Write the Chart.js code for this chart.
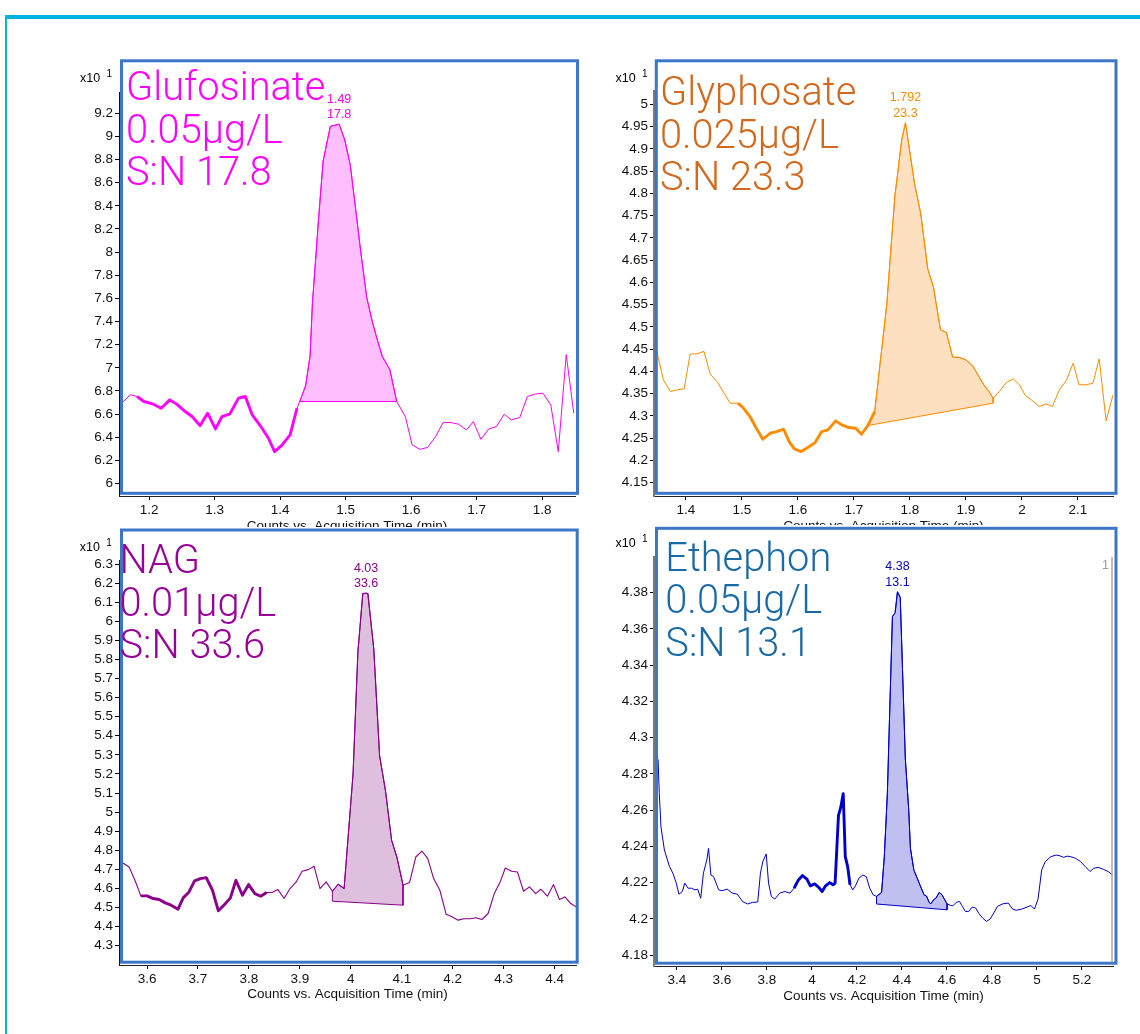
<!DOCTYPE html>
<html>
<head>
<meta charset="utf-8">
<title>Low-level chromatograms</title>
<script src="https://cdn.jsdelivr.net/npm/chart.js@4/dist/chart.umd.min.js"></script>
<style>
  html, body { margin: 0; padding: 0; background: #fff; }
  body { width: 1140px; height: 1034px; overflow: hidden; position: relative; }
  #outline { position: absolute; left: 5px; top: 15px; width: 1200px; height: 1100px;
             border-top: 4px solid #00b3e0; border-left: 2px solid #00b3e0; box-sizing: border-box; }
  canvas { position: absolute; }
</style>
</head>
<body>
<div id="outline"></div>
<canvas id="glufosinate" width="530" height="494" style="left:60px;top:40px"></canvas>
<canvas id="glyphosate" width="530" height="494" style="left:595px;top:40px"></canvas>
<canvas id="nag" width="530" height="507" style="left:60px;top:527px"></canvas>
<canvas id="ethephon" width="530" height="509" style="left:595px;top:525px"></canvas>
<script>
// ---- Glufosinate (counts x10^1) ----
const glufosinateTime = [1.158, 1.1711, 1.1816, 1.1921, 1.2052, 1.2184, 1.2315, 1.242, 1.2551, 1.2656,
  1.2777, 1.2892, 1.3013, 1.3113, 1.3233, 1.3364, 1.3469, 1.3574, 1.3706, 1.3821,
  1.3915, 1.402, 1.4152, 1.4257, 1.4299, 1.4388, 1.4456, 1.4492, 1.4584, 1.4655,
  1.4765, 1.49, 1.4985, 1.5069, 1.5135, 1.5227, 1.5322, 1.5411, 1.5474, 1.5558,
  1.5674, 1.5779, 1.591, 1.6015, 1.6135, 1.6251, 1.6372, 1.6487, 1.6608, 1.6723,
  1.6844, 1.6949, 1.7064, 1.7185, 1.73, 1.7421, 1.7526, 1.7657, 1.7773, 1.7893,
  1.8009, 1.813, 1.8245, 1.8366, 1.8481];
const glufosinateCounts = [6.694, 6.767, 6.752, 6.709, 6.689, 6.651, 6.723, 6.686, 6.622, 6.579,
  6.50, 6.608, 6.472, 6.579, 6.602, 6.738, 6.752, 6.593, 6.492, 6.391,
  6.275, 6.327, 6.42, 6.651, 6.709, 6.845, 7.10, 7.557, 8.271, 8.786,
  9.086, 9.106, 8.971, 8.757, 8.451, 8.018, 7.606, 7.389, 7.259, 7.10,
  6.984, 6.709, 6.579, 6.333, 6.295, 6.3125, 6.405, 6.527, 6.527, 6.512,
  6.463, 6.535, 6.382, 6.472, 6.492, 6.599, 6.55, 6.57, 6.752, 6.773,
  6.781, 6.68, 6.275, 7.114, 6.608];
const glufosinatePeak = [1.49, 17.8];                 // retention time, S:N
const glufosinateBaseline = [[1.4299, 6.709], [1.5779, 6.709]];
const glufosinateNoise = [1.1816, 1.4257];
const glufosinateXTicks = ['1.2', '1.3', '1.4', '1.5', '1.6', '1.7', '1.8'];
const glufosinateYTicks = ['6', '6.2', '6.4', '6.6', '6.8', '7', '7.2', '7.4', '7.6', '7.8', '8',
  '8.2', '8.4', '8.6', '8.8', '9', '9.2'];

// ---- Glyphosate ----
const glyphosateTime = [1.3474, 1.3598, 1.3722, 1.3845, 1.3969, 1.4074, 1.4198, 1.4322, 1.4433, 1.4569,
  1.468, 1.4792, 1.4928, 1.502, 1.5144, 1.5249, 1.5373, 1.5503, 1.562, 1.5744,
  1.5843, 1.5936, 1.6059, 1.6183, 1.6307, 1.6424, 1.6536, 1.6672, 1.6783, 1.6907,
  1.703, 1.7135, 1.7247, 1.737, 1.7587, 1.7729, 1.7853, 1.792, 1.8082, 1.8193,
  1.8317, 1.842, 1.8545, 1.865, 1.8762, 1.8885, 1.8997, 1.912, 1.9213, 1.9318,
  1.9411, 1.9485, 1.9597, 1.972, 1.9844, 1.9955, 2.0061, 2.0184, 2.0308, 2.0432,
  2.0543, 2.0667, 2.0791, 2.0914, 2.1019, 2.1143, 2.1267, 2.1378, 2.1502, 2.1625];
const glyphosateCounts = [4.4485, 4.381, 4.3548, 4.3585, 4.3608, 4.4388, 4.4395, 4.4448, 4.3938, 4.375,
  4.351, 4.3285, 4.3285, 4.3188, 4.2985, 4.2738, 4.2475, 4.261, 4.2648, 4.27,
  4.2423, 4.2258, 4.2198, 4.2295, 4.24, 4.2648, 4.2685, 4.2888, 4.2798, 4.2738,
  4.2723, 4.2588, 4.2783, 4.3098, 4.552, 4.792, 4.9206, 4.9588, 4.8217, 4.7543,
  4.6307, 4.589, 4.4935, 4.4875, 4.432, 4.4313, 4.426, 4.4125, 4.3923, 4.3698,
  4.3548, 4.3398, 4.3548, 4.375, 4.3833, 4.3698, 4.3458, 4.3345, 4.321, 4.327,
  4.321, 4.3585, 4.3795, 4.4185, 4.3698, 4.3698, 4.3735, 4.4283, 4.2888, 4.3473];
const glyphosatePeak = [1.792, 23.3];
const glyphosateBaseline = [[1.7247, 4.2783], [1.9485, 4.3285]];
const glyphosateNoise = [1.4928, 1.737];
const glyphosateXTicks = ['1.4', '1.5', '1.6', '1.7', '1.8', '1.9', '2', '2.1'];
const glyphosateYTicks = ['4.15', '4.2', '4.25', '4.3', '4.35', '4.4', '4.45', '4.5', '4.55', '4.6',
  '4.65', '4.7', '4.75', '4.8', '4.85', '4.9', '4.95', '5'];

// ---- NAG ----
const nagTime = [3.5527, 3.5648, 3.5763, 3.5878, 3.6, 3.6122, 3.6237, 3.6358, 3.6473, 3.6609,
  3.671, 3.6825, 3.6933, 3.7048, 3.7163, 3.7285, 3.74, 3.7522, 3.7637, 3.7745,
  3.7873, 3.7995, 3.8117, 3.8232, 3.8347, 3.8455, 3.857, 3.8691, 3.8806, 3.8928,
  3.9043, 3.9165, 3.928, 3.9395, 3.9516, 3.9638, 3.9753, 3.9868, 4.0044, 4.0139,
  4.0235, 4.03, 4.0335, 4.045, 4.0565, 4.068, 4.0801, 4.0903, 4.1025, 4.1153,
  4.1275, 4.1396, 4.1511, 4.1626, 4.1748, 4.187, 4.1985, 4.2106, 4.2221, 4.2343,
  4.2458, 4.2573, 4.2695, 4.2816, 4.2931, 4.3033, 4.3155, 4.327, 4.3391, 4.3506,
  4.3628, 4.373, 4.3858, 4.398, 4.4095, 4.4203, 4.4318, 4.442];
const nagCounts = [4.7335, 4.7126, 4.643, 4.5611, 4.5611, 4.5472, 4.542, 4.5246, 4.5124, 4.4915,
  4.5507, 4.582, 4.6395, 4.6517, 4.6569, 4.5907, 4.4828, 4.5159, 4.5507, 4.643,
  4.5646, 4.6203, 4.5733, 4.5594, 4.5786, 4.5786, 4.5942, 4.5472, 4.5994, 4.6343,
  4.69, 4.6987, 4.7161, 4.5994, 4.6343, 4.5855, 4.6221, 4.5994, 5.2, 5.839,
  6.145, 6.147, 6.145, 5.857, 5.296, 5.113, 4.852, 4.765, 4.617, 4.6308,
  4.7648, 4.7962, 4.7561, 4.6517, 4.5907, 4.4654, 4.4515, 4.434, 4.441, 4.441,
  4.4462, 4.4375, 4.4689, 4.5733, 4.6343, 4.7074, 4.69, 4.6865, 4.5855, 4.6081,
  4.5733, 4.596, 4.5594, 4.6203, 4.542, 4.5559, 4.5211, 4.5037];
const nagPeak = [4.03, 33.6];
const nagBaseline = [[3.9638, 4.5333], [4.1025, 4.5124]];
const nagNoise = [3.5878, 3.8347];
const nagXTicks = ['3.6', '3.7', '3.8', '3.9', '4', '4.1', '4.2', '4.3', '4.4'];
const nagYTicks = ['4.3', '4.4', '4.5', '4.6', '4.7', '4.8', '4.9', '5', '5.1', '5.2', '5.3',
  '5.4', '5.5', '5.6', '5.7', '5.8', '5.9', '6', '6.1', '6.2', '6.3'];

// ---- Ethephon ----
const ethephonTime = [3.316, 3.3216, 3.329, 3.3442, 3.3668, 3.382, 3.397, 3.409, 3.4241, 3.4347,
  3.4498, 3.4649, 3.48, 3.492, 3.5056, 3.5176, 3.5327, 3.5403, 3.5508, 3.5629,
  3.5855, 3.6006, 3.6232, 3.6459, 3.6685, 3.6912, 3.7137, 3.7364, 3.759, 3.771,
  3.7816, 3.7967, 3.8072, 3.8193, 3.8344, 3.857, 3.8796, 3.9023, 3.9204, 3.94,
  3.9581, 3.9777, 3.9928, 4.0124, 4.0305, 4.0455, 4.0606, 4.0787, 4.0938, 4.1029,
  4.1179, 4.1285, 4.139, 4.1481, 4.1587, 4.1692, 4.1813, 4.1933, 4.2084, 4.2265,
  4.2416, 4.2567, 4.2718, 4.2869, 4.3095, 4.3216, 4.3351, 4.3577, 4.3698, 4.38,
  4.3925, 4.4151, 4.4302, 4.4377, 4.4528, 4.4679, 4.483, 4.4981, 4.5101, 4.5207,
  4.5283, 4.5403, 4.5509, 4.5656, 4.578, 4.5885, 4.6006, 4.6157, 4.6262, 4.6413,
  4.6564, 4.6667, 4.682, 4.6968, 4.7122, 4.7273, 4.7424, 4.758, 4.7757, 4.7919,
  4.8081, 4.8242, 4.8484, 4.8726, 4.8919, 4.908, 4.9323, 4.9565, 4.9727, 4.9888,
  5.0049, 5.021, 5.0372, 5.0614, 5.0857, 5.1017, 5.1179, 5.134, 5.1501, 5.1713,
  5.1939, 5.2149, 5.2359, 5.252, 5.2714, 5.2954, 5.3164, 5.3358];
const ethephonCounts = [4.288, 4.269, 4.2507, 4.238, 4.2288, 4.2252, 4.2197, 4.2136, 4.2151, 4.2197,
  4.2169, 4.2169, 4.216, 4.2164, 4.2114, 4.2252, 4.2325, 4.2389, 4.2242, 4.2233,
  4.216, 4.2155, 4.2164, 4.2142, 4.2136, 4.2096, 4.2082, 4.2091, 4.2093, 4.2252,
  4.2316, 4.2358, 4.2197, 4.2124, 4.2109, 4.2142, 4.2151, 4.2142, 4.2169, 4.2215,
  4.2239, 4.2219, 4.2182, 4.2193, 4.2173, 4.2151, 4.2182, 4.22, 4.2188, 4.2197,
  4.2571, 4.2617, 4.269, 4.2343, 4.2288, 4.2188, 4.216, 4.2182, 4.2224, 4.2242,
  4.2233, 4.2169, 4.2133, 4.2124, 4.2146, 4.2343, 4.269, 4.3667, 4.3689, 4.3804,
  4.3773, 4.2882, 4.2599, 4.2389, 4.227, 4.2224, 4.2178, 4.2133, 4.2124, 4.2091,
  4.2083, 4.2105, 4.2114, 4.2146, 4.2133, 4.2109, 4.2083, 4.2074, 4.2072, 4.2091,
  4.2096, 4.2072, 4.2041, 4.2041, 4.2065, 4.206, 4.2029, 4.2005, 4.1986, 4.1999,
  4.2032, 4.2069, 4.2083, 4.2087, 4.2054, 4.2047, 4.2054, 4.2065, 4.2074, 4.2054,
  4.2109, 4.227, 4.2316, 4.2343, 4.2352, 4.2348, 4.2339, 4.2346, 4.2343, 4.2334,
  4.2316, 4.2288, 4.2261, 4.2279, 4.2284, 4.2273, 4.2261, 4.2242];
const ethephonPeak = [4.38, 13.1];
const ethephonBaseline = [[4.2869, 4.2082], [4.6006, 4.205]];
const ethephonNoise = [3.9204, 4.1692];
const ethephonXTicks = ['3.4', '3.6', '3.8', '4', '4.2', '4.4', '4.6', '4.8', '5', '5.2'];
const ethephonYTicks = ['4.18', '4.2', '4.22', '4.24', '4.26', '4.28', '4.3', '4.32', '4.34', '4.36', '4.38'];

// ---- shared styling ----
const AXIS_TITLE = 'Counts vs. Acquisition Time (min)';
const SANS = "'Liberation Sans', Arial, Helvetica, sans-serif";
const FRAME_BLUE = '#3b76c8';

function buildPanel(p) {
  const trace = p.time.map((t, i) => ({ x: t, y: p.counts[i] }));
  const within = (pt, a, b) => pt.x >= a - 1e-9 && pt.x <= b + 1e-9;
  const noise = trace.filter(pt => within(pt, p.noise[0], p.noise[1]));
  const [b0, b1] = p.baseline;
  const area = [{ x: b0[0], y: b0[1] }]
    .concat(trace.filter(pt => within(pt, b0[0], b1[0])))
    .concat([{ x: b1[0], y: b1[1] }, { x: b0[0], y: b0[1] }]);
  const apex = trace.find(pt => Math.abs(pt.x - p.peak[0]) < 1e-9);
  const L = p.layout;
  const xVals = p.xTicks.map(Number);
  const yVals = p.yTicks.map(Number);

  const decor = {
    id: 'decor_' + p.id,
    beforeDraw(chart) {
      const ctx = chart.ctx;
      ctx.save();
      ctx.fillStyle = '#ffffff';
      ctx.fillRect(0, 0, chart.width, chart.height);
      ctx.restore();
    },
    afterDraw(chart) {
      const ctx = chart.ctx;
      ctx.save();
      // panel frame
      const f = L.frame;
      ctx.strokeStyle = FRAME_BLUE;
      ctx.lineWidth = 3;
      ctx.strokeRect(f[0], f[1], f[2] - f[0], f[3] - f[1]);

      // right-hand axis stub
      if (L.rightAxis) {
        const ca = chart.chartArea;
        ctx.strokeStyle = '#a8a8a8';
        ctx.lineWidth = 1.5;
        ctx.beginPath();
        ctx.moveTo(ca.right - 1, ca.top);
        ctx.lineTo(ca.right - 1, f[3] - 1);
        ctx.stroke();
        ctx.fillStyle = '#9a9a9a';
        ctx.font = '12.5px ' + SANS;
        ctx.textAlign = 'right';
        ctx.textBaseline = 'alphabetic';
        ctx.fillText('1', ca.right - 4, ca.top + 12);
      }

      // count multiplier
      ctx.fillStyle = '#000';
      ctx.textAlign = 'left';
      ctx.textBaseline = 'alphabetic';
      ctx.font = '12.5px ' + SANS;
      ctx.fillText('x10', L.mult[0], L.mult[1]);
      ctx.font = '10px ' + SANS;
      ctx.fillText('1', L.mult[0] + 26.5, L.mult[1] - 5);

      // compound, level and signal-to-noise
      ctx.fillStyle = p.textColor;
      ctx.font = '300 39.8px Roboto, "Noto Sans", sans-serif';
      [p.name, p.level, 'S:N ' + p.peak[1]].forEach((s, i) => {
        ctx.fillText(s, L.label[0], L.label[1] + i * 42.5);
      });

      // apex annotation
      const px = chart.scales.x.getPixelForValue(apex.x);
      const py = chart.scales.y.getPixelForValue(apex.y);
      ctx.fillStyle = p.line;
      ctx.font = '12.5px ' + SANS;
      ctx.textAlign = 'center';
      ctx.textBaseline = 'middle';
      ctx.fillText(String(p.peak[0]), px, py - 25);
      ctx.fillText(String(p.peak[1]), px, py - 9.5);
      ctx.restore();
    }
  };

  const tickFont = { family: SANS, size: 13.5 };
  return new Chart(document.getElementById(p.id), {
    type: 'line',
    data: {
      datasets: [
        { data: trace, borderColor: p.line, borderWidth: p.thin, pointRadius: 0, fill: false,
          tension: 0, borderJoinStyle: 'round' },
        { data: noise, borderColor: p.line, borderWidth: 2.9, pointRadius: 0, fill: false,
          tension: 0, borderJoinStyle: 'round' },
        { data: area, borderColor: p.line, borderWidth: 1, pointRadius: 0, fill: 'shape',
          backgroundColor: p.fill, tension: 0 }
      ]
    },
    options: {
      responsive: false,
      animation: false,
      events: [],
      layout: { padding: { left: 0, top: L.padTop, right: L.padRight, bottom: L.padBottom } },
      plugins: { legend: { display: false }, tooltip: { enabled: false }, title: { display: false } },
      scales: {
        x: {
          type: 'linear', min: p.xRange[0], max: p.xRange[1],
          afterBuildTicks: s => { s.ticks = xVals.map(v => ({ value: v })); },
          afterFit: s => { s.height = L.xH; },
          ticks: { autoSkip: false, maxRotation: 0, minRotation: 0, padding: 2, color: '#111', font: tickFont,
                   callback: (v, i) => p.xTicks[i] },
          grid: { drawOnChartArea: false, drawTicks: true, tickLength: 4, tickColor: '#000', tickWidth: 1 },
          border: { display: true, color: '#222', width: 1 },
          title: { display: true, text: AXIS_TITLE, color: '#111', font: { family: SANS, size: 13.5 },
                   padding: 0 }
        },
        y: {
          type: 'linear', min: p.yRange[0], max: p.yRange[1],
          afterBuildTicks: s => { s.ticks = yVals.map(v => ({ value: v })); },
          afterFit: s => { s.width = 59; },
          ticks: { autoSkip: false, padding: 2, color: '#111', font: tickFont,
                   callback: (v, i) => p.yTicks[i] },
          grid: { drawOnChartArea: false, drawTicks: true, tickLength: 4, tickColor: '#000', tickWidth: 1 },
          border: { display: true, color: p.yAxisColor, width: p.yAxisWidth }
        }
      }
    },
    plugins: [decor]
  });
}

buildPanel({
  id: 'glufosinate', name: 'Glufosinate', level: '0.05µg/L',
  time: glufosinateTime, counts: glufosinateCounts, peak: glufosinatePeak,
  baseline: glufosinateBaseline, noise: glufosinateNoise,
  xTicks: glufosinateXTicks, yTicks: glufosinateYTicks,
  xRange: [1.154, 1.85], yRange: [5.892, 9.384],
  line: '#ff00ff', fill: '#ffbfff', textColor: '#ff00ff', thin: 1,
  yAxisColor: '#111', yAxisWidth: 1,
  layout: { padTop: 52, padRight: 15, padBottom: 0, xH: 38,
            frame: [61.5, 20.8, 517.5, 453.3], mult: [20, 41.5], label: [66, 60] }
});

buildPanel({
  id: 'glyphosate', name: 'Glyphosate', level: '0.025µg/L',
  time: glyphosateTime, counts: glyphosateCounts, peak: glyphosatePeak,
  baseline: glyphosateBaseline, noise: glyphosateNoise,
  xTicks: glyphosateXTicks, yTicks: glyphosateYTicks,
  xRange: [1.343, 2.1625], yRange: [4.12, 5.03],
  line: '#ff8c00', fill: '#fde0c0', textColor: '#d2691e', thin: 1,
  yAxisColor: '#7a7a7a', yAxisWidth: 2,
  layout: { padTop: 51, padRight: 12, padBottom: 0, xH: 38,
            frame: [61.3, 20.8, 521, 453.3], mult: [20.6, 42], label: [65, 65] }
});

buildPanel({
  id: 'nag', name: 'NAG', level: '0.01µg/L',
  time: nagTime, counts: nagCounts, peak: nagPeak,
  baseline: nagBaseline, noise: nagNoise,
  xTicks: nagXTicks, yTicks: nagYTicks,
  xRange: [3.545, 4.442], yRange: [4.199, 6.321],
  line: '#8b008b', fill: '#dec0de', textColor: '#990099', thin: 1.1,
  yAxisColor: '#111', yAxisWidth: 1,
  layout: { padTop: 33, padRight: 14, padBottom: 31.4, xH: 37.6,
            frame: [61.5, 3, 517.2, 435.2], mult: [19.7, 24], label: [59.5, 46.3] }
});

buildPanel({
  id: 'ethephon', name: 'Ethephon', level: '0.05µg/L',
  time: ethephonTime, counts: ethephonCounts, peak: ethephonPeak,
  baseline: ethephonBaseline, noise: ethephonNoise,
  xTicks: ethephonXTicks, yTicks: ethephonYTicks,
  xRange: [3.298, 5.338], yRange: [4.174, 4.3996],
  line: '#0000cd', fill: '#bfc0f0', textColor: '#1a6aa6', thin: 1,
  yAxisColor: '#7a7a7a', yAxisWidth: 2,
  layout: { padTop: 32, padRight: 12, padBottom: 29.2, xH: 38.8,
            frame: [61.5, 3.3, 521, 438.2], mult: [20.6, 22], label: [70.3, 45.7], rightAxis: true }
});
</script>
</body>
</html>
